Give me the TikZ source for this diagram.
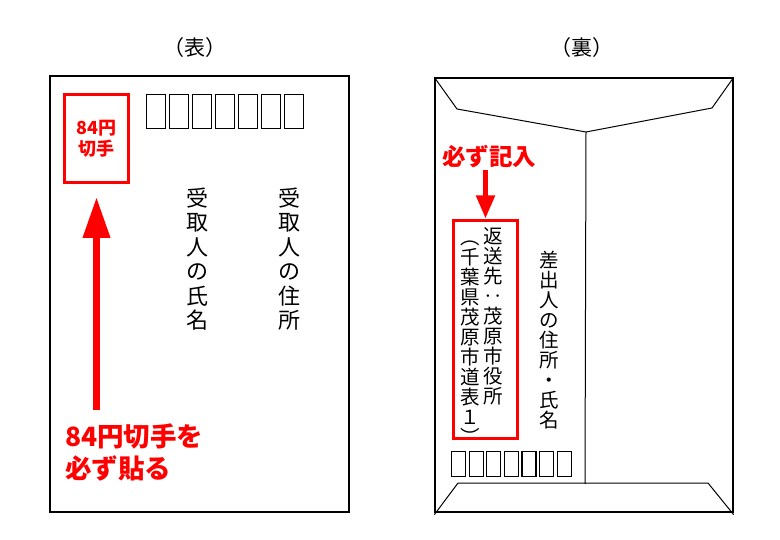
\documentclass[tikz,border=0pt]{standalone}
\usepackage{fontspec}
\newfontfamily\jp{Noto Sans CJK JP}
\usetikzlibrary{arrows.meta}
\begin{document}
\begin{tikzpicture}[x=1pt,y=-1pt,
  border/.style={draw=black, line width=1.3pt, inner sep=0pt},
  zipbox/.style={draw=black, line width=1.2pt, inner sep=0pt},
  redbox/.style={draw=red, line width=3pt, inner sep=0pt},
  vch/.style={font=\jp\fontsize{22}{22}\selectfont, inner sep=0pt, text height=19.4pt, text depth=2.6pt},
  vchs/.style={font=\jp\fontsize{19.5}{19.5}\selectfont, inner sep=0pt, text height=17.2pt, text depth=2.3pt},
  redlabel/.style={text=red, font=\jp\bfseries\fontsize{26.5}{32}\selectfont, inner sep=0pt},
  flap/.style={draw=black, line width=1pt},
  bigarrow/.style={draw=red, line width=7pt, -{Triangle[width=26pt,length=41pt]}},
  smallarrow/.style={draw=red, line width=5pt, -{Triangle[width=18pt,length=23pt]}}]
\useasboundingbox (0,0) rectangle (780,540);
\fill[white] (0,0) rectangle (780,540);

% ---- front (omote) ----
\node[font=\jp\fontsize{21}{21}\selectfont, inner sep=0pt] (omote) at (195,48) {（表）};
\node[border, minimum width=299pt, minimum height=436pt] (card) at (199.5,294) {};
\node[redbox, minimum width=64pt, minimum height=88pt, text=red, align=center,
      font=\jp\bfseries\fontsize{18}{21}\selectfont] (stamp) at (96.5,138.5) {84円\\切手};
\foreach \i in {0,...,6}
  \node[zipbox, minimum width=18.8pt, minimum height=34pt] (zl\i) at (156+23*\i,111.5) {};
\foreach \c [count=\i] in {受,取,人,の,住,所}
  \node[vch] (ad\i) at (289,198+24.5*\i-24.5) {\c};
\foreach \c [count=\i] in {受,取,人,の,氏,名}
  \node[vch] (nm\i) at (197,198+24.5*\i-24.5) {\c};
\node[redlabel, align=left, anchor=north west] (note) at (65,424) {84円切手を\\必ず貼る};
\draw[bigarrow, shorten <=14pt, shorten >=13pt] (note.north -| stamp.south) -- (stamp.south);

% ---- back (ura) ----
\node[font=\jp\fontsize{21}{21}\selectfont, inner sep=0pt] (ura) at (582,48) {（裏）};
\node[border, minimum width=298pt, minimum height=434pt] (env) at (584,295) {};
\coordinate (ftl) at (457,109);
\coordinate (fmid) at (586,132);
\coordinate (ftr) at (712,108);
\coordinate (seamb) at (585,484);
\coordinate (bl) at (458,483);
\coordinate (br) at (708,483);
\draw[flap] (env.north west) -- (ftl) -- (fmid) -- (ftr) -- (env.north east);
\draw[flap] (fmid) -- (seamb);
\draw[flap] ([yshift=-2pt]env.south west) -- (bl) -- (br) -- ([yshift=-2pt]env.south east);

\node[text=red, font=\jp\bfseries\fontsize{23.5}{23.5}\selectfont, inner sep=0pt] (kinyu) at (489,157) {必ず記入};
\node[redbox, minimum width=64pt, minimum height=218pt] (ret) at (485.5,329.5) {};
\draw[smallarrow, shorten <=1pt, shorten >=0.5pt] (kinyu.south -| ret.north) -- (ret.north);
\foreach \c [count=\i] in {返,送,先,‥,茂,原,市,役,所}
  \node[vchs] (ra\i) at (493,236+20*\i-20) {\c};
\foreach \c [count=\i] in {︵,千,葉,県,茂,原,市,道,表,１,︶}
  \node[vchs] (rb\i) at (470,237+20*\i-20) {\c};
\foreach \c [count=\i] in {差,出,人,の,住,所,・,氏,名}
  \node[vchs] (sd\i) at (549,260+20*\i-20) {\c};
\foreach \i in {0,...,6}
  \node[zipbox, minimum width=14pt, minimum height=25pt] (zr\i) at (458.5+17.6*\i,464) {};
\end{tikzpicture}
\end{document}
